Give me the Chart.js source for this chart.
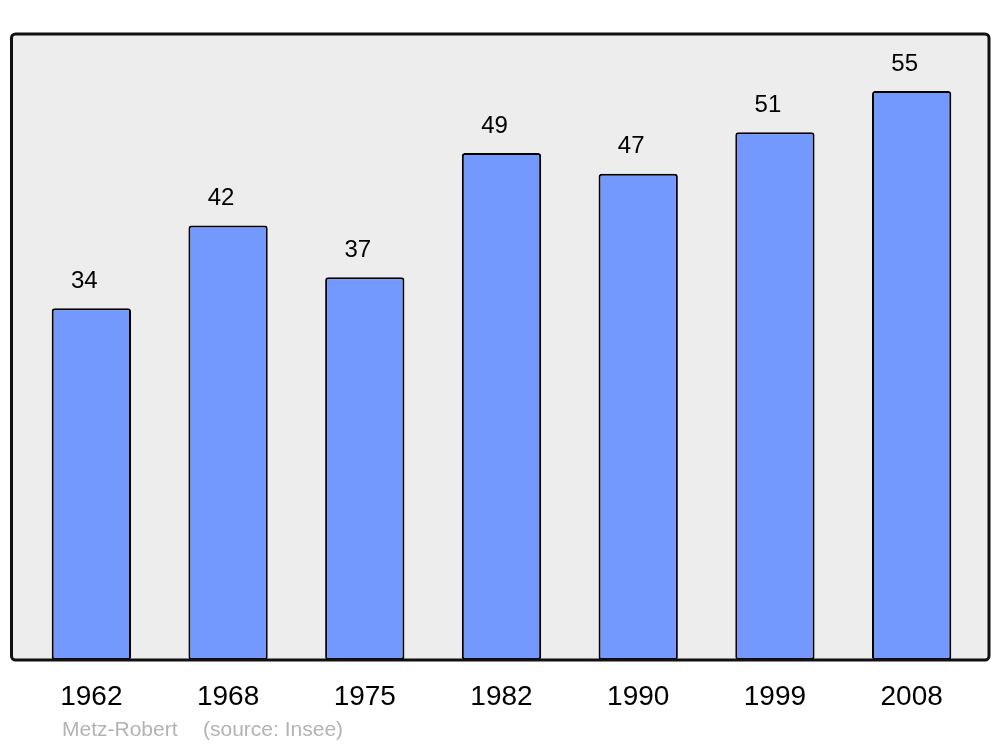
<!DOCTYPE html>
<html>
<head>
<meta charset="utf-8">
<script src="https://cdn.jsdelivr.net/npm/chart.js@4"></script>
<style>
    html, body { margin: 0; padding: 0; background: #ffffff; }
    canvas { display: block; }
</style>
</head>
<body>
<canvas id="population-chart" width="1000" height="747"></canvas>
<script>
// Data
const years = ['1962', '1968', '1975', '1982', '1990', '1999', '2008'];
const population = [34, 42, 37, 49, 47, 51, 55];
const footerAuthor = 'Metz-Robert';
const footerSource = '(source: Insee)';

// Gray panel behind the bars, border on top, value labels above bars
const panelPlugin = {
    id: 'panel',
    beforeDatasetsDraw(chart) {
        const ctx = chart.ctx;
        const area = chart.chartArea;
        ctx.save();
        ctx.fillStyle = '#ededed';
        ctx.beginPath();
        ctx.roundRect(11.5, area.top, 989 - 11.5, area.bottom - area.top, 4);
        ctx.fill();
        ctx.restore();
    },
    afterDatasetsDraw(chart) {
        const ctx = chart.ctx;
        const area = chart.chartArea;
        ctx.save();
        ctx.strokeStyle = '#111111';
        ctx.lineWidth = 3;
        ctx.beginPath();
        ctx.roundRect(11.5, area.top, 989 - 11.5, area.bottom - area.top, 4);
        ctx.stroke();

        // value labels (sit a little left of the bar centre in the original)
        ctx.fillStyle = '#000000';
        ctx.font = '24px "Liberation Sans", Arial, sans-serif';
        ctx.textAlign = 'center';
        ctx.textBaseline = 'middle';
        const meta = chart.getDatasetMeta(0);
        meta.data.forEach(function(bar, i) {
            ctx.fillText(String(population[i]), bar.x - 7, bar.y - 27);
        });

        // footer
        ctx.fillStyle = '#b3b3b3';
        ctx.font = '21px "Liberation Sans", Arial, sans-serif';
        ctx.textAlign = 'left';
        ctx.fillText(footerAuthor, 62, 730);
        ctx.fillText(footerSource, 203, 730);
        ctx.restore();
    }
};

function initializePopulationChart() {
    const canvas = document.getElementById('population-chart');
    if (!canvas) return;

    new Chart(canvas, {
        type: 'bar',
        data: {
            labels: years,
            datasets: [{
                data: population,
                backgroundColor: '#7399ff',
                borderColor: '#000000',
                borderWidth: 2,
                borderRadius: 3,
                borderSkipped: false,
                barPercentage: 0.58,
                categoryPercentage: 1
            }]
        },
        options: {
            responsive: false,
            animation: false,
            layout: {
                padding: { left: 23, right: 20, top: 34, bottom: 0 }
            },
            plugins: {
                legend: { display: false },
                tooltip: { enabled: false }
            },
            scales: {
                x: {
                    grid: { display: false, drawTicks: false },
                    border: { display: false },
                    ticks: {
                        color: '#000000',
                        font: { family: '"Liberation Sans", Arial, sans-serif', size: 28 },
                        padding: 20,
                        maxRotation: 0
                    },
                    afterFit(scale) {
                        scale.height = 87;
                    }
                },
                y: {
                    display: false,
                    min: 0,
                    max: 60.5
                }
            }
        },
        plugins: [panelPlugin]
    });
}

initializePopulationChart();
</script>
</body>
</html>
